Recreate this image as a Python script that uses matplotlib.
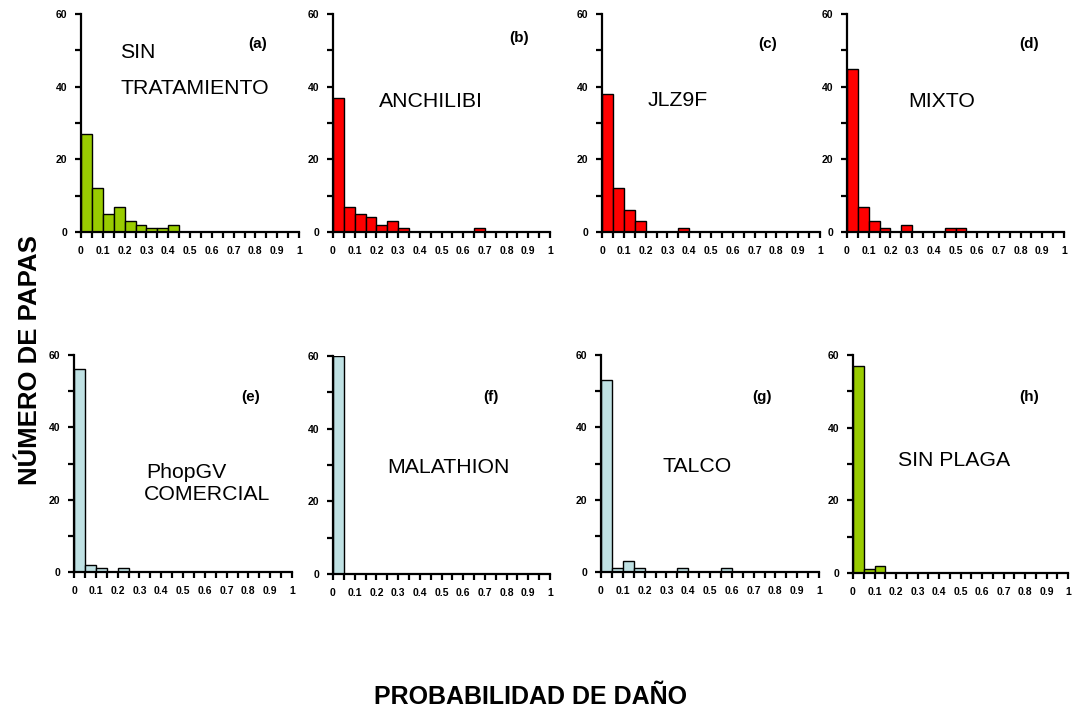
import numpy as np
import matplotlib.pyplot as plt
from matplotlib.ticker import MultipleLocator

plt.rcParams['font.family'] = ['Liberation Sans', 'DejaVu Sans']

# bins de probabilidad de daño (ancho 0.05)
edges = np.round(np.arange(0, 1.0001, 0.05), 2)

# número de papas por bin
sin_tratamiento = [27, 12, 5, 7, 3, 2, 1, 1, 2, 0, 0, 0, 0, 0, 0, 0, 0, 0, 0, 0]
anchilibi = [37, 7, 5, 4, 2, 3, 1, 0, 0, 0, 0, 0, 0, 1, 0, 0, 0, 0, 0, 0]
jlz9f = [38, 12, 6, 3, 0, 0, 0, 1, 0, 0, 0, 0, 0, 0, 0, 0, 0, 0, 0, 0]
mixto = [45, 7, 3, 1, 0, 2, 0, 0, 0, 1, 1, 0, 0, 0, 0, 0, 0, 0, 0, 0]
phopgv = [56, 2, 1, 0, 1, 0, 0, 0, 0, 0, 0, 0, 0, 0, 0, 0, 0, 0, 0, 0]
malathion = [60, 0, 0, 0, 0, 0, 0, 0, 0, 0, 0, 0, 0, 0, 0, 0, 0, 0, 0, 0]
talco = [53, 1, 3, 1, 0, 0, 0, 1, 0, 0, 0, 1, 0, 0, 0, 0, 0, 0, 0, 0]
sin_plaga = [57, 1, 2, 0, 0, 0, 0, 0, 0, 0, 0, 0, 0, 0, 0, 0, 0, 0, 0, 0]

series = [sin_tratamiento, anchilibi, jlz9f, mixto, phopgv, malathion, talco, sin_plaga]
letras = ['(a)', '(b)', '(c)', '(d)', '(e)', '(f)', '(g)', '(h)']
nombres = [['SIN', 'TRATAMIENTO'], ['ANCHILIBI'], ['JLZ9F'], ['MIXTO'],
           ['PhopGV', 'COMERCIAL'], ['MALATHION'], ['TALCO'], ['SIN PLAGA']]

verde = '#99cc00'
rojo = '#ff0000'
celeste = '#bfe1e3'
colores = [verde, rojo, rojo, rojo, celeste, celeste, celeste, verde]

# posiciones de los ejes en pixeles: izquierda, arriba, derecha, abajo
cajas = [(81, 14, 299, 232), (333, 14, 550, 232), (602, 14, 820, 232), (847, 14, 1064, 232),
         (74, 355, 292, 572), (333, 356, 550, 574), (601, 355, 819, 572), (853, 355, 1068, 573)]

# posiciones de textos (x en fraccion del eje x, y en datos)
pos_nombre = [[(0.18, 49.5), (0.18, 39.6)], [(0.21, 36)], [(0.21, 36.3)], [(0.28, 36)],
              [(0.33, 27.4), (0.32, 21.3)], [(0.25, 29.2)], [(0.28, 29.3)], [(0.21, 31)]]
pos_letra = [(0.81, 51.7), (0.857, 53.4), (0.76, 51.7), (0.84, 51.7),
             (0.81, 48.4), (0.73, 48.7), (0.74, 48.4), (0.82, 48.4)]

W, H = 1074, 709
fig = plt.figure(figsize=(W / 100, H / 100), dpi=100)

for i, datos in enumerate(series):
    l, t, r, b = cajas[i]
    ax = fig.add_axes([l / W, (H - b) / H, (r - l) / W, (b - t) / H])
    ax.bar(edges[:-1], datos, width=0.05, align='edge', color=colores[i],
           edgecolor='black', linewidth=1.0)
    ax.set_xlim(0, 1)
    ax.set_ylim(0, 60)
    for s in ['top', 'right']:
        ax.spines[s].set_visible(False)
    for s in ['left', 'bottom']:
        ax.spines[s].set_linewidth(1.6)
    ax.xaxis.set_minor_locator(MultipleLocator(0.05))
    ax.yaxis.set_major_locator(MultipleLocator(20))
    ax.yaxis.set_minor_locator(MultipleLocator(10))
    ax.set_xticks(np.round(np.arange(0, 1.01, 0.1), 1))
    ax.set_xticklabels(['0'] + ['%.1f' % v for v in np.arange(0.1, 0.95, 0.1)] + ['1'])
    ax.tick_params(which='both', direction='out', width=1.6, length=4, pad=6)
    ax.tick_params(axis='both', labelsize=7.5)
    for lab in ax.get_xticklabels() + ax.get_yticklabels():
        lab.set_fontweight('bold')
    for txt, (x, y) in zip(nombres[i], pos_nombre[i]):
        ax.text(x, y, txt, fontsize=15.3, ha='left', va='center')
    x, y = pos_letra[i]
    ax.text(x, y, letras[i], fontsize=11, fontweight='bold', ha='center', va='center')

fig.text(30 / W, 1 - 360 / H, 'NÚMERO DE PAPAS', rotation=90, fontsize=18.5,
         fontweight='bold', ha='center', va='center')
fig.text(530 / W, 1 - 697 / H, 'PROBABILIDAD DE DAÑO', fontsize=18,
         fontweight='bold', ha='center', va='center')

fig.savefig('out.png', dpi=100)
